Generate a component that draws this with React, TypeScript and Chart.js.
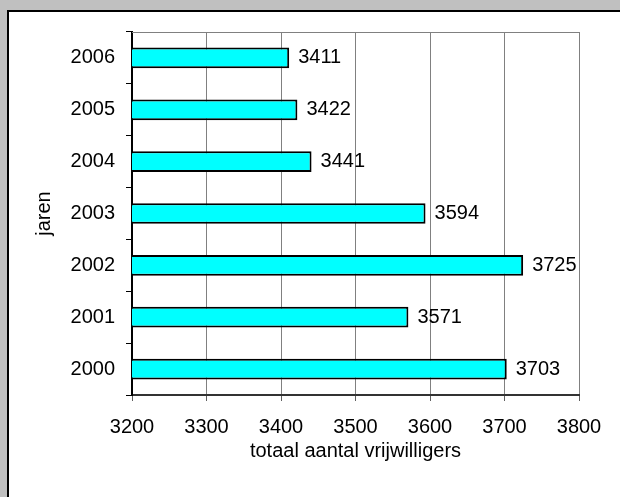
import React, { useEffect, useRef } from "react";
import { Chart, registerables } from "chart.js";

Chart.register(...registerables);

const years = ["2000", "2001", "2002", "2003", "2004", "2005", "2006"];
const volunteers = [3703, 3571, 3725, 3594, 3441, 3422, 3411];
const xTicksMin = 3200;
const xTicksMax = 3800;
const xStep = 100;
const xTitle = "totaal aantal vrijwilligers";
const yTitle = "jaren";

const FONT = "'Liberation Sans', Arial, sans-serif";

const valueLabels = {
  id: "valueLabels",
  afterDatasetsDraw(chart: any) {
    const ctx = chart.ctx;
    const meta = chart.getDatasetMeta(0);
    ctx.save();
    ctx.font = `20px ${FONT}`;
    ctx.fillStyle = "#000";
    ctx.textAlign = "left";
    ctx.textBaseline = "middle";
    meta.data.forEach((el: any, i: number) => {
      ctx.fillText(String(chart.data.datasets[0].data[i]), el.x + 9, el.y);
    });
    ctx.restore();
  },
};

const frame = {
  id: "frame",
  beforeDatasetsDraw(chart: any) {
    const { ctx, chartArea } = chart;
    ctx.save();
    ctx.strokeStyle = "#808080";
    ctx.lineWidth = 1;
    ctx.beginPath();
    ctx.moveTo(chartArea.left, Math.round(chartArea.top) + 0.5);
    ctx.lineTo(chartArea.right, Math.round(chartArea.top) + 0.5);
    ctx.stroke();
    ctx.restore();
  },
};

export default function App() {
  const ref = useRef<HTMLCanvasElement>(null);
  useEffect(() => {
    if (!ref.current) return;
    const chart = new Chart(ref.current, {
      type: "bar",
      data: {
        labels: years,
        datasets: [
          {
            data: volunteers,
            backgroundColor: "#00ffff",
            borderColor: "#000",
            borderWidth: 2,
            borderSkipped: false,
            barPercentage: 0.4,
            categoryPercentage: 1,
          },
        ],
      },
      options: {
        indexAxis: "y",
        responsive: false,
        animation: false,
        layout: { padding: { top: 32, right: 41, left: 0, bottom: 0 } },
        plugins: { legend: { display: false }, tooltip: { enabled: false } },
        scales: {
          x: {
            min: xTicksMin,
            max: xTicksMax,
            afterFit: (s: any) => {
              s.height = 102;
            },
            ticks: {
              stepSize: xStep,
              color: "#000",
              font: { family: FONT, size: 20 },
              padding: 14,
              maxRotation: 0,
              callback: (v: any) => String(v),
            },
            grid: { color: "#808080", lineWidth: 1, tickLength: 6, tickColor: "#606060" },
            border: { color: "#333", width: 2 },
            title: {
              display: true,
              text: xTitle,
              color: "#000",
              font: { family: FONT, size: 20 },
              padding: { top: 0, bottom: 34 },
            },
          },
          y: {
            reverse: true,
            afterFit: (s: any) => {
              s.width = 132;
            },
            ticks: {
              color: "#000",
              font: { family: FONT, size: 20 },
              padding: 11,
            },
            grid: { drawOnChartArea: false, tickLength: 6, color: "#000", offset: true },
            border: { color: "#000", width: 2 },
            title: {
              display: true,
              text: yTitle,
              color: "#000",
              font: { family: FONT, size: 20 },
              padding: { top: 32, bottom: 0 },
            },
          },
        },
      },
      plugins: [frame, valueLabels],
    });
    return () => chart.destroy();
  }, []);

  return (
    <div
      style={{
        position: "fixed",
        left: 0,
        top: 0,
        width: 620,
        height: 497,
        background: "#c0c0c0",
        overflow: "hidden",
      }}
    >
      <div
        style={{
          position: "absolute",
          left: 7,
          top: 10,
          width: 640,
          height: 520,
          background: "#fff",
          border: "2px solid #000",
        }}
      />
      <canvas
        ref={ref}
        width={620}
        height={497}
        style={{ position: "absolute", left: 0, top: 0 }}
      />
    </div>
  );
}
